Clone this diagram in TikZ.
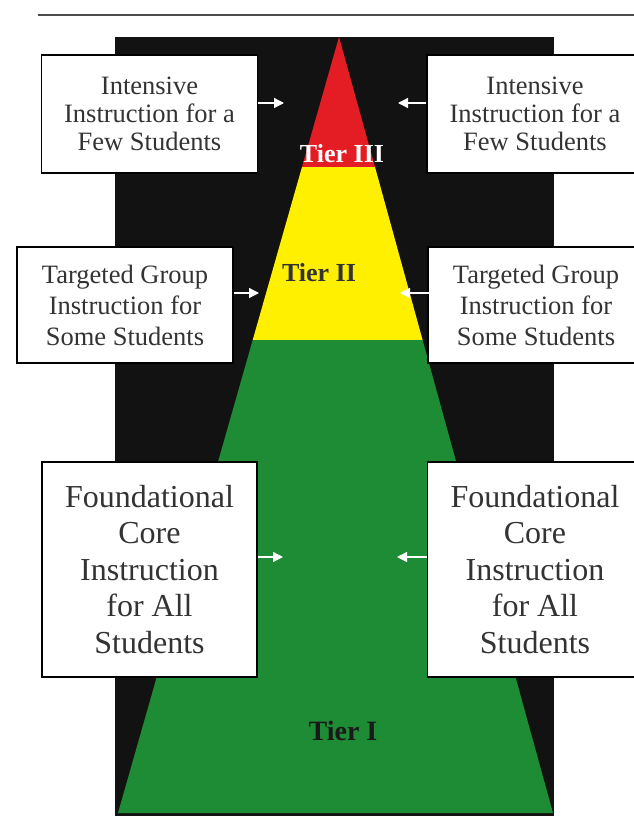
\documentclass[tikz,border=0pt]{standalone}
\usepackage{fontspec}
\setmainfont{Liberation Serif}
\usetikzlibrary{arrows.meta}
\definecolor{tierred}{RGB}{228,28,36}
\definecolor{tieryellow}{RGB}{255,240,0}
\definecolor{tiergreen}{RGB}{30,140,52}
\definecolor{bgblack}{RGB}{18,18,18}
\tikzset{
  infobox/.style={draw=black, line width=1.3pt, fill=white, inner sep=0pt, align=center, text=black!80},
  smallbox/.style={infobox, minimum width=216pt, minimum height=118pt, font=\fontsize{26.5}{28}\selectfont},
  midbox/.style={infobox, minimum width=216pt, minimum height=116pt, font=\fontsize{26.5}{31}\selectfont},
  bigbox/.style={infobox, minimum width=215pt, minimum height=215pt, font=\fontsize{32}{36.5}\selectfont},
  tierlabel/.style={anchor=base, inner sep=0pt, font=\bfseries},
  pointer/.style={draw=white, line width=1.3pt, -{Triangle[length=10pt,width=10pt]}}
}
\begin{document}
\begin{tikzpicture}[x=1pt, y=-1pt]
\clip (0,0) rectangle (634,816);
\fill[white] (0,0) rectangle (634,816);
% top rule
\coordinate (ruleA) at (38,15);
\coordinate (ruleB) at (640,15);
\draw[black!70, line width=1.4pt] (ruleA) -- (ruleB);
% black background
\fill[bgblack] (115,37) rectangle (554,820);
% pyramid
\coordinate (apex) at (339,37);
\coordinate (r1) at (302,167);
\coordinate (r2) at (375,167);
\coordinate (y1) at (252.7,340);
\coordinate (y2) at (422.6,340);
\coordinate (g1) at (118,813);
\coordinate (g2) at (553,813);
\fill[tierred] (apex) -- (r2) -- (r1) -- cycle;
\fill[tieryellow] (r1) -- (r2) -- (y2) -- (y1) -- cycle;
\fill[tiergreen] (y1) -- (y2) -- (g2) -- (g1) -- cycle;
% tier labels
\node[tierlabel, text=white, font=\bfseries\fontsize{26}{26}\selectfont] (t3) at (342,162) {Tier III};
\node[tierlabel, text=black!80, font=\bfseries\fontsize{26}{26}\selectfont] (t2) at (319,281) {Tier II};
\node[tierlabel, text=black!90, font=\bfseries\fontsize{28}{28}\selectfont] (t1) at (343,740) {Tier I};
% boxes
\node[smallbox] (tl) at (149.5,114) {Intensive\\Instruction for a\\Few Students};
\node[smallbox] (tr) at (535,114) {Intensive\\Instruction for a\\Few Students};
\node[midbox] (ml) at (125,305) {Targeted Group\\Instruction for\\Some Students};
\node[midbox] (mr) at (536,305) {Targeted Group\\Instruction for\\Some Students};
\node[bigbox] (bl) at (149.5,569.5) {Foundational\\Core\\Instruction\\for All\\Students};
\node[bigbox] (br) at (535,569.5) {Foundational\\Core\\Instruction\\for All\\Students};
% arrow tips
\coordinate (tlA) at (284,103);
\coordinate (trA) at (398,103);
\coordinate (mlA) at (259,293);
\coordinate (mrA) at (400,293);
\coordinate (blA) at (283,557);
\coordinate (brA) at (397,557);
\draw[pointer] (tl.east |- tlA) -- (tlA);
\draw[pointer] (tr.west |- trA) -- (trA);
\draw[pointer] (ml.east |- mlA) -- (mlA);
\draw[pointer] ([xshift=3pt]mr.west |- mrA) -- (mrA);
\draw[pointer] (bl.east |- blA) -- (blA);
\draw[pointer] (br.west |- brA) -- (brA);
\end{tikzpicture}
\end{document}
